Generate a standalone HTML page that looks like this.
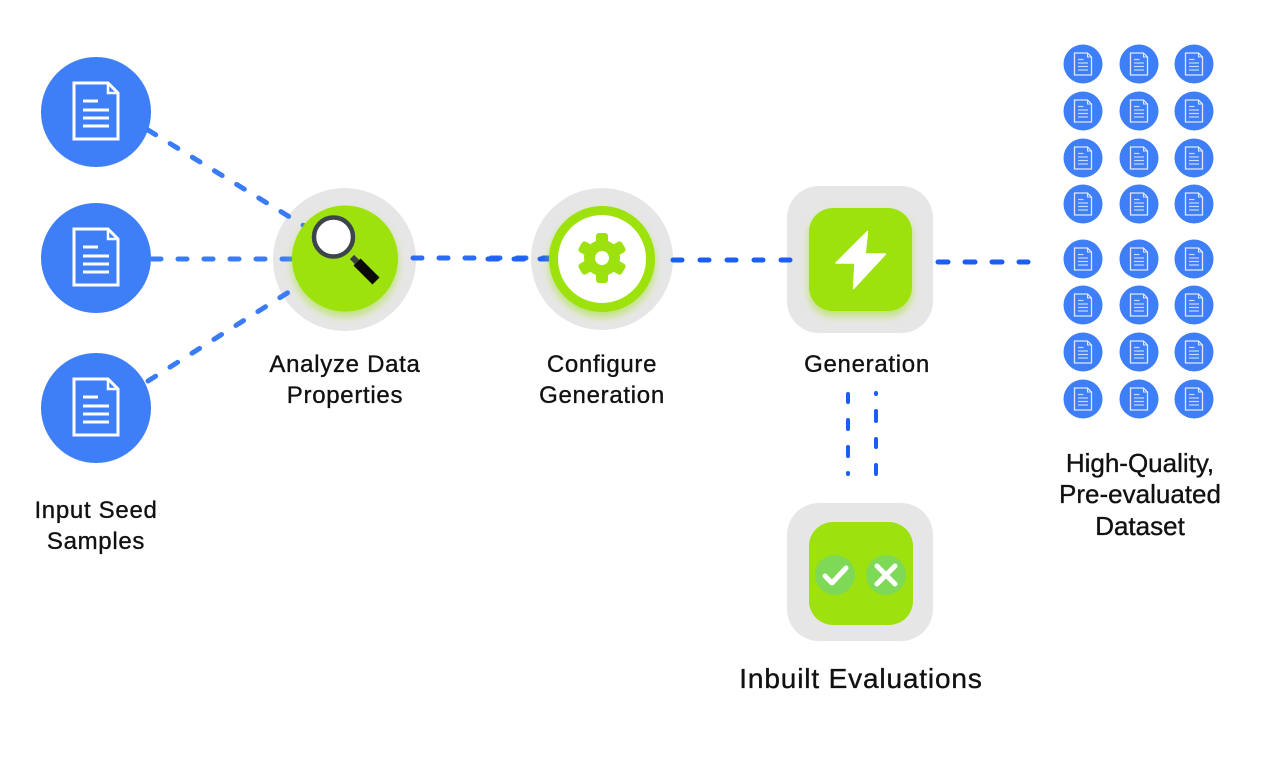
<!DOCTYPE html>
<html><head><meta charset="utf-8"><style>
html,body{margin:0;padding:0;background:#fff;}
svg{display:block;}
text{font-family:"Liberation Sans",sans-serif;fill:#111;stroke:#111;stroke-width:0.35;}
</style></head><body>
<svg width="1280" height="760" viewBox="0 0 1280 760" xmlns="http://www.w3.org/2000/svg">
<defs>
<filter id="glow" x="-30%" y="-30%" width="160%" height="170%">
<feDropShadow dx="0" dy="5" stdDeviation="4" flood-color="#9de10e" flood-opacity="0.55"/>
</filter>
<g id="bigdoc">
<path d="M-22,-29 H12 L22,-19 V27 H-22 Z" fill="none" stroke="#fff" stroke-width="3" stroke-linejoin="miter"/>
<path d="M12,-29 V-19 H22" fill="none" stroke="#fff" stroke-width="2.5"/>
<line x1="-13" y1="-11" x2="2" y2="-11" stroke="#fff" stroke-width="3"/>
<line x1="-13" y1="-2" x2="13" y2="-2" stroke="#fff" stroke-width="3"/>
<line x1="-13" y1="6" x2="13" y2="6" stroke="#fff" stroke-width="3"/>
<line x1="-13" y1="14" x2="13" y2="14" stroke="#fff" stroke-width="3"/>
</g>
<g id="sd">
<circle r="19.5" fill="#3e7ff7"/>
<path d="M-8.5,-11 H4.5 L8.5,-7 V11 H-8.5 Z" fill="none" stroke="#dfe8ff" stroke-width="1.3"/>
<path d="M4.5,-11 V-7 H8.5" fill="none" stroke="#dfe8ff" stroke-width="1.1"/>
<line x1="-5" y1="-4.5" x2="0.5" y2="-4.5" stroke="#c9d9ff" stroke-width="1.2"/>
<line x1="-5" y1="-1" x2="5" y2="-1" stroke="#c9d9ff" stroke-width="1.2"/>
<line x1="-5" y1="2.5" x2="5" y2="2.5" stroke="#c9d9ff" stroke-width="1.2"/>
<line x1="-5" y1="6" x2="5" y2="6" stroke="#c9d9ff" stroke-width="1.2"/>
</g>
</defs>

<!-- gray backgrounds -->
<circle cx="344.5" cy="259.5" r="71.5" fill="#e6e6e6"/>
<circle cx="602" cy="259" r="71" fill="#e6e6e6"/>
<rect x="787" y="186" width="146" height="147" rx="32" fill="#e6e6e6"/>
<rect x="787" y="503" width="146" height="138" rx="32" fill="#e6e6e6"/>

<!-- connectors -->
<g fill="none" stroke-linecap="round">
<line x1="148" y1="130" x2="306" y2="227" stroke="#3a7bf6" stroke-width="5" stroke-dasharray="9 17"/>
<line x1="152" y1="259" x2="292" y2="259" stroke="#3a7bf6" stroke-width="5" stroke-dasharray="9 17"/>
<line x1="148" y1="381" x2="292" y2="290" stroke="#3a7bf6" stroke-width="5" stroke-dasharray="9 17"/>
<line x1="413" y1="258" x2="552" y2="258" stroke="#2a6cf6" stroke-width="5" stroke-dasharray="9 17"/>
<line x1="488" y1="259" x2="552" y2="259" stroke="#1f62f5" stroke-width="5" stroke-dasharray="10 16"/>
<line x1="673" y1="260" x2="808" y2="260" stroke="#1a5ef5" stroke-width="5" stroke-dasharray="9 18"/>
<line x1="938" y1="262" x2="1028" y2="262" stroke="#1a5ef5" stroke-width="5" stroke-dasharray="10 17"/>
</g>
<g stroke="#1a5ef5" stroke-width="4" stroke-linecap="round">
<line x1="848" y1="394" x2="848" y2="402"/>
<line x1="848" y1="420" x2="848" y2="429"/>
<line x1="848" y1="447" x2="848" y2="456"/>
<line x1="848" y1="473" x2="848" y2="474"/>
<line x1="876" y1="393" x2="876" y2="394"/>
<line x1="876" y1="411" x2="876" y2="421"/>
<line x1="876" y1="439" x2="876" y2="447"/>
<line x1="876" y1="465" x2="876" y2="474"/>
</g>

<!-- input circles -->
<circle cx="96" cy="112" r="55" fill="#3e7ff7"/>
<use href="#bigdoc" x="96" y="112"/>
<circle cx="96" cy="258" r="55" fill="#3e7ff7"/>
<use href="#bigdoc" x="96" y="258"/>
<circle cx="96" cy="408" r="55" fill="#3e7ff7"/>
<use href="#bigdoc" x="96" y="408"/>

<!-- analyze node -->
<circle cx="345" cy="258.5" r="53" fill="#9de10e" filter="url(#glow)"/>
<line x1="352" y1="257" x2="357" y2="262" stroke="#3a3f44" stroke-width="6"/>
<line x1="357" y1="262" x2="376" y2="281" stroke="#0a0a0a" stroke-width="10" stroke-linecap="butt"/>
<circle cx="333.5" cy="237" r="19.5" fill="#fff" stroke="#3d454c" stroke-width="4.5"/>

<!-- configure node -->
<circle cx="602" cy="259" r="53" fill="#9de10e" filter="url(#glow)"/>
<circle cx="602" cy="259" r="44" fill="#fff"/>
<g transform="translate(602,258)" fill="#9de10e">
<circle r="18"/>
<rect x="-6" y="-25" width="12" height="14" rx="3"/>
<rect x="-6" y="-25" width="12" height="14" rx="3" transform="rotate(60)"/>
<rect x="-6" y="-25" width="12" height="14" rx="3" transform="rotate(120)"/>
<rect x="-6" y="-25" width="12" height="14" rx="3" transform="rotate(180)"/>
<rect x="-6" y="-25" width="12" height="14" rx="3" transform="rotate(240)"/>
<rect x="-6" y="-25" width="12" height="14" rx="3" transform="rotate(300)"/>
<circle r="7" fill="#fff"/>
</g>

<!-- generation node -->
<rect x="809" y="208" width="103" height="103" rx="24" fill="#9de10e" filter="url(#glow)"/>
<path d="M867.5,231.5 L836,263 L855,263 L853.5,288.5 L885.5,254 L865,254 Z" fill="#fff" stroke="#fff" stroke-width="1.5" stroke-linejoin="round"/>

<!-- evaluations node -->
<rect x="809" y="522" width="104" height="103" rx="24" fill="#9de10e"/>
<circle cx="835" cy="575" r="20" fill="#7ed957"/>
<circle cx="886" cy="575" r="20" fill="#7ed957"/>
<path d="M825,576 L832,583 L846,568" fill="none" stroke="#fff" stroke-width="5" stroke-linecap="round" stroke-linejoin="round"/>
<path d="M877,566 L895,584 M895,566 L877,584" fill="none" stroke="#fff" stroke-width="5" stroke-linecap="round"/>

<!-- dataset grid -->
<g>
<use href="#sd" x="1083" y="64"/><use href="#sd" x="1139" y="64"/><use href="#sd" x="1194" y="64"/>
<use href="#sd" x="1083" y="111"/><use href="#sd" x="1139" y="111"/><use href="#sd" x="1194" y="111"/>
<use href="#sd" x="1083" y="158"/><use href="#sd" x="1139" y="158"/><use href="#sd" x="1194" y="158"/>
<use href="#sd" x="1083" y="204"/><use href="#sd" x="1139" y="204"/><use href="#sd" x="1194" y="204"/>
<use href="#sd" x="1083" y="259"/><use href="#sd" x="1139" y="259"/><use href="#sd" x="1194" y="259"/>
<use href="#sd" x="1083" y="305"/><use href="#sd" x="1139" y="305"/><use href="#sd" x="1194" y="305"/>
<use href="#sd" x="1083" y="352"/><use href="#sd" x="1139" y="352"/><use href="#sd" x="1194" y="352"/>
<use href="#sd" x="1083" y="399"/><use href="#sd" x="1139" y="399"/><use href="#sd" x="1194" y="399"/>
</g>

<!-- labels -->
<g font-size="24" letter-spacing="0.7" text-anchor="middle">
<text x="96" y="518">Input Seed</text>
<text x="96" y="549">Samples</text>
<text x="345" y="372">Analyze Data</text>
<text x="345" y="403">Properties</text>
<text x="602" y="372">Configure</text>
<text x="602" y="403">Generation</text>
<text x="867" y="372">Generation</text>
</g>
<g font-size="26" text-anchor="middle">
<text x="1140" y="472">High-Quality,</text>
<text x="1140" y="503">Pre-evaluated</text>
<text x="1140" y="535">Dataset</text>
</g>
<text x="861" y="688" font-size="28" letter-spacing="0.85" text-anchor="middle">Inbuilt Evaluations</text>
</svg>
</body></html>
